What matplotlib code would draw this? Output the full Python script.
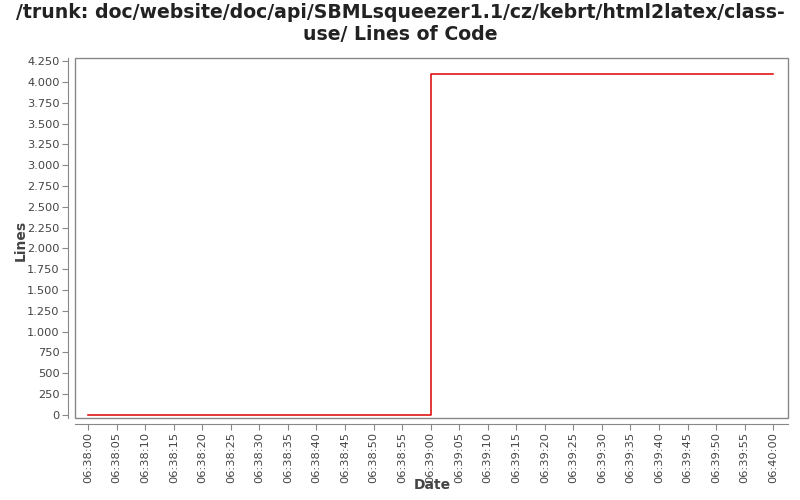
import matplotlib
matplotlib.use("Agg")
import matplotlib.pyplot as plt
import matplotlib.dates as mdates
from matplotlib.ticker import FuncFormatter, MultipleLocator
from matplotlib.patches import Rectangle
import datetime as dt

times = ["06:38:00", "06:39:00", "06:40:00"]
lines = [0, 4093, 4093]

base = dt.date(2020, 1, 1)
x = [dt.datetime.combine(base, dt.datetime.strptime(t, "%H:%M:%S").time()) for t in times]

fig = plt.figure(figsize=(8, 5), dpi=100)
ax = fig.add_axes([75/800, 1-418/500, (788-75)/800, (418-58)/500])

ax.plot(x, lines, drawstyle="steps-post", color="#dd0000", lw=1.1)

ax.set_xlim(x[0] - dt.timedelta(seconds=2.3), x[-1] + dt.timedelta(seconds=2.6))
ax.set_ylim(-40, 4290)

ax.yaxis.set_major_locator(MultipleLocator(250))
ax.yaxis.set_major_formatter(FuncFormatter(lambda v, p: f"{int(round(v)):,}".replace(",", ".")))
ax.xaxis.set_major_locator(mdates.SecondLocator(bysecond=range(0, 60, 5)))
ax.xaxis.set_major_formatter(mdates.DateFormatter("%H:%M:%S"))

for s in ["top", "right"]:
    ax.spines[s].set_visible(False)
ax.spines["left"].set_position(("outward", 5))
ax.spines["bottom"].set_position(("outward", 4))
for s in ["left", "bottom"]:
    ax.spines[s].set_color("#888888")
ax.add_patch(Rectangle((0, 0), 1, 1, transform=ax.transAxes, fill=False,
                       edgecolor="#888888", lw=1, clip_on=False))
ax.tick_params(axis="both", colors="#888888", labelcolor="#444444", labelsize=8.2, length=4, pad=2)
ax.tick_params(axis="x", labelrotation=90)

ax.set_xlabel("Date", fontsize=10, fontweight="bold", color="#444444")
ax.xaxis.set_label_coords((432-75)/713, -(478-418)/360)
ax.set_ylabel("Lines", fontsize=10, fontweight="bold", color="#444444")
ax.yaxis.set_label_coords(-(75-28)/713, (418-240)/360)
fig.suptitle("/trunk: doc/website/doc/api/SBMLsqueezer1.1/cz/kebrt/html2latex/class-\nuse/ Lines of Code",
             fontsize=13.6, fontweight="bold", y=0.995, color="#222222")

fig.savefig("out.png", dpi=100)
